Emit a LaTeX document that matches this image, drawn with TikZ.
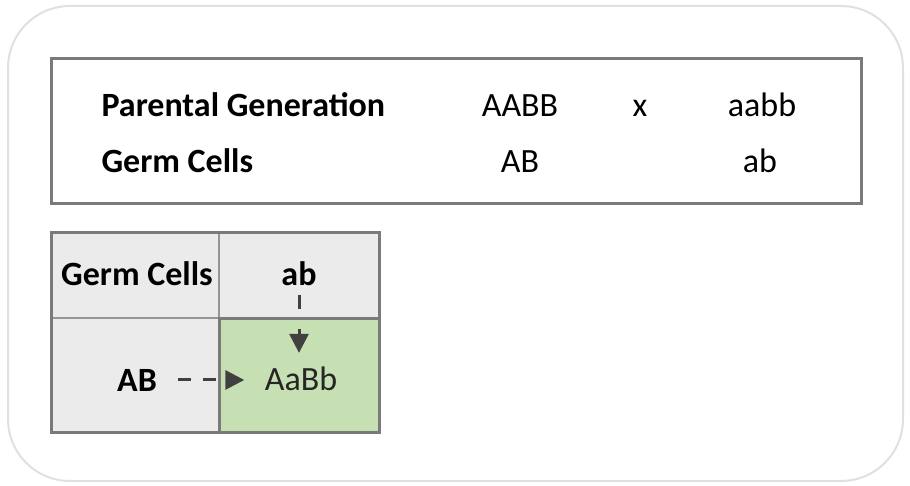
\documentclass[tikz,border=0pt]{standalone}
\usepackage{fontspec}
\setmainfont{Carlito}
\usetikzlibrary{arrows.meta}

\definecolor{frame}{HTML}{7A7A7A}
\definecolor{cellgray}{HTML}{EBEBEB}
\definecolor{cellgreen}{HTML}{C6E0B4}
\definecolor{arrowgray}{HTML}{404040}

\tikzset{
  txt/.style={anchor=base,font=\fontsize{34}{40}\selectfont},
  hdr/.style={anchor=base,font=\fontsize{34}{40}\selectfont\bfseries},
  link/.style={arrowgray,line width=3pt,dash pattern=on 13pt off 12pt,
    -{Triangle[length=19pt,width=19pt]}},
}

\begin{document}
\begin{tikzpicture}[x=1pt,y=-1pt]
\useasboundingbox (0,0) rectangle (910,486);
% rounded frame round everything
\draw[black!12,line width=2pt,rounded corners=62pt] (8,6) rectangle (903,481);

% cross box
\draw[frame,line width=3pt] (51,59) rectangle (861,204);
\node[hdr,anchor=base west] (pg) at (98,117) {Parental Generation};
\node[hdr,anchor=base west] (gc) at (98,173) {Germ Cells};
\node[txt] (p1) at (520,117) {AABB};
\node[txt] (cross) at (640,117) {x};
\node[txt] (p2) at (762,117) {aabb};
\node[txt] (g1) at (520,173) {AB};
\node[txt] (g2) at (760,173) {ab};

% punnett square
\fill[cellgray] (51,233) rectangle (379,432);
\fill[cellgreen] (219,318) rectangle (379,432);
\draw[frame!80,line width=1.5pt] (219,233) -- (219,318);
\draw[frame!80,line width=1.5pt] (51,318) -- (219,318);
\draw[frame,line width=3pt] (219,318) rectangle (379,432);
\draw[frame,line width=3pt] (51,233) rectangle (379,432);

\node[hdr] (corner) at (137,286) {Germ Cells};
\node[hdr] (col) at (299,286) {ab};
\node[hdr] (row) at (137,391) {AB};
\node[txt,text=black!85] (child) at (301,390) {AaBb};

\draw[link,shorten <=18pt,shorten >=17pt] (row.east) -- (row.east -| child.west);
\draw[link,dash pattern=on 14pt off 20pt,shorten <=5pt,shorten >=10pt]
  (col.south) -- (child.north -| col.south);
\end{tikzpicture}
\end{document}
